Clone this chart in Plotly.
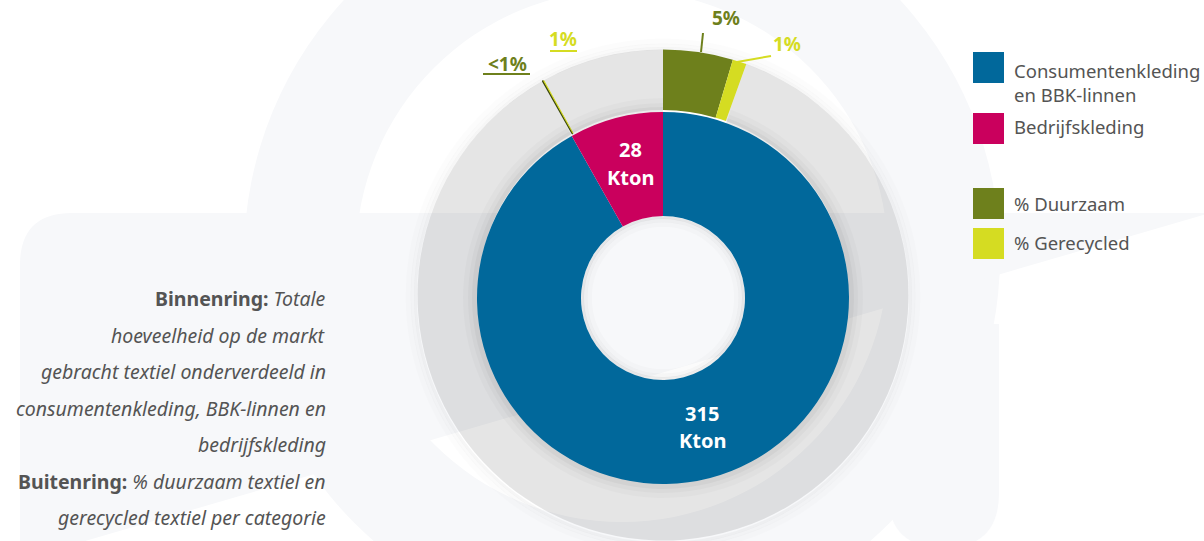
import plotly.graph_objects as go

W, H = 1204, 541

# ---------------- data ----------------
categories = ["Consumentenkleding en BBK-linnen", "Bedrijfskleding"]
kton = [315, 28]
unit = "Kton"
duurzaam_pct = [5, 0.5]        # shown as "5%" and "<1%"
gerecycled_pct = [1, 1]
duurzaam_labels = ["5%", "<1%"]
gerecycled_labels = ["1%", "1%"]
legend_labels = ["Consumentenkleding<br>en BBK-linnen", "Bedrijfskleding", "% Duurzaam", "% Gerecycled"]
note_lines = [
    "<b>Binnenring:</b> <i>Totale</i>",
    "<i>hoeveelheid op de markt</i>",
    "<i>gebracht textiel onderverdeeld in</i>",
    "<i>consumentenkleding, BBK-linnen en</i>",
    "<i>bedrijfskleding</i>",
    "<b>Buitenring:</b> <i>% duurzaam textiel en</i>",
    "<i>gerecycled textiel per categorie</i>",
]

# ---------------- style ----------------
BLUE = "#01689b"
MAGENTA = "#ca005d"
OLIVE = "#6e801c"
LIME = "#d5dc22"
RING = "rgba(0,0,0,0.10)"
BG = "#f7f8fa"
TXT = "#545454"
FONT = "Noto Sans"
CLEAR = "rgba(0,0,0,0)"


def fx(x):
    return x / W


def fy(y):
    return 1 - y / H


def dom(cx, cy, r):
    return dict(x=[fx(cx - r), fx(cx + r)], y=[max(0, fy(cy + r)), fy(cy - r)])


CX, CY = 663, 298
R_IN, R_HOLE = 186, 82
CY_OUT = 295
R_OUT = H - CY_OUT - 0.5

# outer ring values (per category: duurzaam, gerecycled, rest)
outer_vals, outer_cols, outer_rest_mask = [], [], []
for k, d, g in zip(kton, duurzaam_pct, gerecycled_pct):
    outer_vals += [k * d / 100, k * g / 100, k * (100 - d - g) / 100]
    outer_cols += [OLIVE, LIME, RING]
    outer_rest_mask += [False, False, True]

fig = go.Figure()

fig.add_trace(go.Pie(
    values=outer_vals, sort=False, direction="clockwise", rotation=0,
    hole=(R_IN - 1) / R_OUT, domain=dom(CX, CY_OUT, R_OUT),
    marker=dict(colors=outer_cols,
                line=dict(color=["#3c470e" if (i == 3) else CLEAR for i in range(6)],
                          width=[1.2 if i == 3 else 0 for i in range(6)])),
    textinfo="none", hoverinfo="skip", showlegend=False,
))

# inner shadow on the grey ring
for r, c in [(200, "rgba(0,0,0,0.02)"), (195, "rgba(0,0,0,0.025)"), (191, "rgba(0,0,0,0.035)")]:
    fig.add_trace(go.Pie(
        values=outer_vals, sort=False, direction="clockwise", rotation=0,
        hole=(R_IN - 1) / r, domain=dom(CX, CY, r),
        marker=dict(colors=[c if m else CLEAR for m in outer_rest_mask], line=dict(width=0)),
        textinfo="none", hoverinfo="skip", showlegend=False,
    ))

fig.add_trace(go.Pie(
    labels=categories, values=kton, sort=False, direction="clockwise", rotation=0,
    hole=R_HOLE / R_IN, domain=dom(CX, CY, R_IN),
    marker=dict(colors=[BLUE, MAGENTA], line=dict(width=0)),
    textinfo="none",
    hoverinfo="label+value", showlegend=False,
))

shapes = []


def circ(cx, cy, r, fill, line=None, lw=0, layer="below"):
    shapes.append(dict(type="circle", xref="paper", yref="paper",
                       x0=fx(cx - r), x1=fx(cx + r), y0=fy(cy + r), y1=fy(cy - r),
                       fillcolor=fill, line=dict(color=line or CLEAR, width=lw), layer=layer))


def path(points, fill=None, line=None, lw=0, layer="below", close=True):
    d = ""
    for cmd, pts in points:
        d += cmd + " " + " ".join(f"{fx(x):.5f},{fy(y):.5f}" for x, y in pts) + " "
    if close:
        d += "Z"
    shapes.append(dict(type="path", xref="paper", yref="paper", path=d,
                       fillcolor=fill or CLEAR, line=dict(color=line or CLEAR, width=lw), layer=layer))


# background logo
circ(622, 256, 378, BG)
circ(622, 256, 266, "white")
path([("M", [(20, 560)]), ("L", [(20, 265)]), ("Q", [(20, 213), (72, 213)]),
      ("L", [(1210, 213), (1210, 560)])], fill=BG)
path([("M", [(130, 324)]), ("L", [(999, 324), (999, 560), (130, 560)])], fill="white")
path([("M", [(888, 324)]), ("L", [(888, 493)]), ("Q", [(888, 548), (943.5, 548)]),
      ("Q", [(999, 548), (999, 493)]), ("L", [(999, 324)])], fill=BG)
path([("M", [(999, 325)]), ("L", [(1111, 325), (1111, 560), (999, 560)])], fill="white")

# soft drop shadow around grey ring (strokes only)
for dr, a, w in [(9, 0.012, 6), (5, 0.02, 4), (2, 0.035, 3)]:
    circ(CX, CY_OUT + 1, R_OUT + dr, CLEAR, f"rgba(0,0,0,{a})", w)
# inner shadow of the hole
circ(CX, CY, R_HOLE - 1.5, CLEAR, "rgba(0,0,0,0.07)", 3)
circ(CX, CY, R_HOLE - 4.5, CLEAR, "rgba(0,0,0,0.035)", 4)
circ(CX, CY, R_HOLE - 8.5, CLEAR, "rgba(0,0,0,0.015)", 5)

# leader lines
leaders = [
    ([(701, 52), (703, 33), (747, 33)], OLIVE),
    ([(737, 62), (771, 56), (806, 56)], LIME),
    ([(483, 74), (530, 74), (541, 81)], OLIVE),
    ([(577, 51), (550, 51), (542, 80)], LIME),
]
for pts, col in leaders:
    path([("M", [pts[0]]), ("L", pts[1:])], line=col, lw=2, layer="above", close=False)

# legend squares
leg_sq = [(52, BLUE), (113, MAGENTA), (188, OLIVE), (228, LIME)]
for y0, col in leg_sq:
    shapes.append(dict(type="rect", xref="paper", yref="paper",
                       x0=fx(973), x1=fx(1004), y0=fy(y0 + 31), y1=fy(y0),
                       fillcolor=col, line=dict(width=0), layer="above"))

annotations = []


def ann(x, y, text, size, color, xanchor="center"):
    annotations.append(dict(xref="paper", yref="paper", x=fx(x), y=fy(y), text=text,
                            showarrow=False, xanchor=xanchor, yanchor="middle",
                            align=xanchor if xanchor != "center" else "center",
                            font=dict(family=FONT, size=size, color=color)))


# inner ring value labels
for (x, y1, y2), v in zip([(702, 413, 440), (630, 150, 178)], kton):
    ann(x, y1, f"<b>{v}</b>", 20, "white")
    ann(x, y2, f"<b>{unit}</b>", 20, "white")

# outer ring labels
ann(726, 18, "<b>" + duurzaam_labels[0] + "</b>", 19, OLIVE)
ann(787, 44, "<b>" + gerecycled_labels[0] + "</b>", 19, LIME)
ann(507, 64, "<b>" + duurzaam_labels[1] + "</b>", 19, OLIVE)
ann(563, 39, "<b>" + gerecycled_labels[1] + "</b>", 19, LIME)

# legend text
ann(1012, 82, legend_labels[0], 18.5, TXT, xanchor="left")
ann(1012, 127, legend_labels[1], 18.5, TXT, xanchor="left")
ann(1012, 203, legend_labels[2], 18.5, TXT, xanchor="left")
ann(1012, 242, legend_labels[3], 18.5, TXT, xanchor="left")

# note text
note_y = [298, 335, 371, 408, 444, 481, 517]
for yy, t in zip(note_y, note_lines):
    ann(328, yy, t, 19.5, TXT, xanchor="right")

fig.update_layout(
    width=W, height=H, margin=dict(l=0, r=0, t=0, b=0),
    paper_bgcolor="white", plot_bgcolor="white",
    shapes=shapes, annotations=annotations,
    font=dict(family=FONT),
)

fig.write_html("out.html", config={"displayModeBar": False},
               post_script="document.body.style.margin='0';document.body.style.overflow='hidden';")
